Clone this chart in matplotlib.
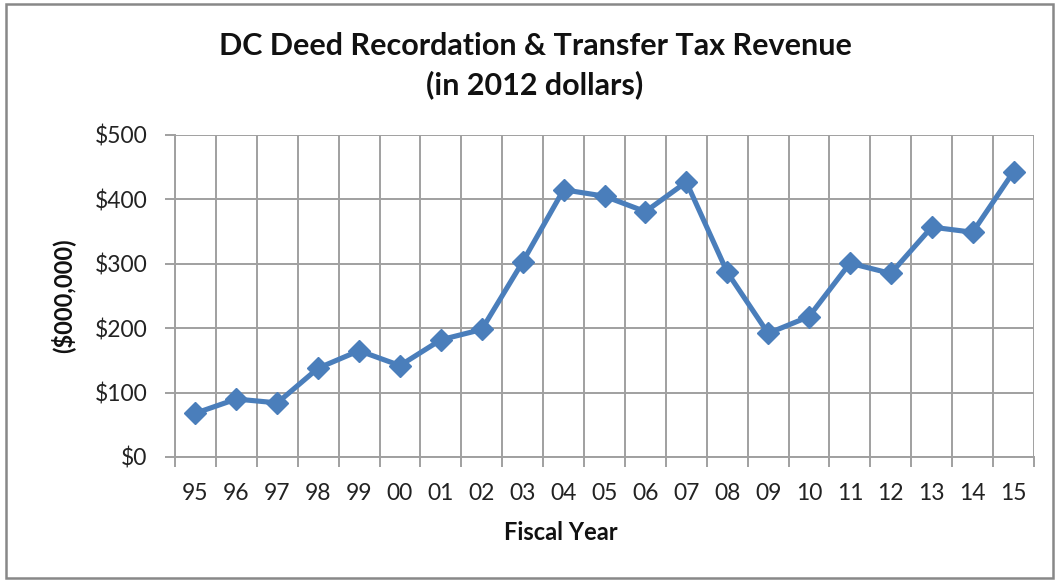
import matplotlib
matplotlib.use("Agg")
import matplotlib.pyplot as plt
from matplotlib.patches import Rectangle
from matplotlib.ticker import FixedLocator, FuncFormatter

years = ["95", "96", "97", "98", "99", "00", "01", "02", "03", "04", "05",
         "06", "07", "08", "09", "10", "11", "12", "13", "14", "15"]
revenue = [68, 90, 84, 138, 165, 142, 182, 198, 303, 415, 405,
           381, 427, 287, 192, 218, 301, 285, 357, 349, 443]
y_ticks = [0, 100, 200, 300, 400, 500]

plt.rcParams['font.family'] = ['Lato', 'DejaVu Sans']

W, H = 1058, 580
fig = plt.figure(figsize=(W / 100, H / 100), dpi=100)
fig.patch.set_facecolor('white')

grid_c = '#A0A0A0'
ax = fig.add_axes([175 / W, (H - 457) / H, (1034 - 175) / W, (457 - 135) / H])
x = list(range(len(years)))
ax.plot(x, revenue, color='#4A7EBB', linewidth=3.7, marker='D',
        markersize=11.5, markerfacecolor='#4A7EBB', markeredgecolor='#4A7EBB',
        zorder=3, clip_on=False)

ax.set_xlim(-0.5, len(years) - 0.5)
ax.set_ylim(0, 500)

ax.xaxis.set_major_locator(FixedLocator(x))
ax.set_xticklabels(years)
ax.xaxis.set_minor_locator(FixedLocator([i - 0.5 for i in range(len(years) + 1)]))
ax.tick_params(axis='x', which='major', length=0, pad=19, labelsize=16.5,
               labelcolor='#222222')
ax.tick_params(axis='x', which='minor', length=7, width=1.4, color=grid_c,
               direction='out')
ax.set_yticks(y_ticks)
ax.yaxis.set_major_formatter(FuncFormatter(lambda v, p: f"${int(v)}"))
ax.tick_params(axis='y', length=7, width=1.4, color=grid_c, pad=13,
               labelsize=16.5, labelcolor='#222222')

ax.grid(True, which='minor', axis='x', color=grid_c, linewidth=1.4)
ax.grid(True, which='major', axis='y', color=grid_c, linewidth=1.4)
ax.set_axisbelow(True)
for side in ['top', 'right']:
    ax.spines[side].set_visible(False)
for side in ['left', 'bottom']:
    ax.spines[side].set_color(grid_c)
    ax.spines[side].set_linewidth(1.4)

fig.text(535 / W, 1 - 46 / H, "DC Deed Recordation & Transfer Tax Revenue",
         ha='center', va='center', fontsize=22, fontweight='bold', color='#111111')
fig.text(535 / W, 1 - 85 / H, "(in 2012 dollars)",
         ha='center', va='center', fontsize=22, fontweight='bold', color='#111111')
fig.text(561 / W, 1 - 533 / H, "Fiscal Year", ha='center', va='center',
         fontsize=17, fontweight='bold', color='#111111')
fig.text(63 / W, 1 - 296 / H, "($000,000)", ha='center', va='center',
         rotation=90, fontsize=17, fontweight='bold', color='#111111')

fig.patches.append(Rectangle((6 / W, 2 / H), (1053 - 6) / W, (577 - 3) / H,
                             transform=fig.transFigure, fill=False,
                             edgecolor='#888888', linewidth=1.8))

fig.savefig("out.png", dpi=100)
